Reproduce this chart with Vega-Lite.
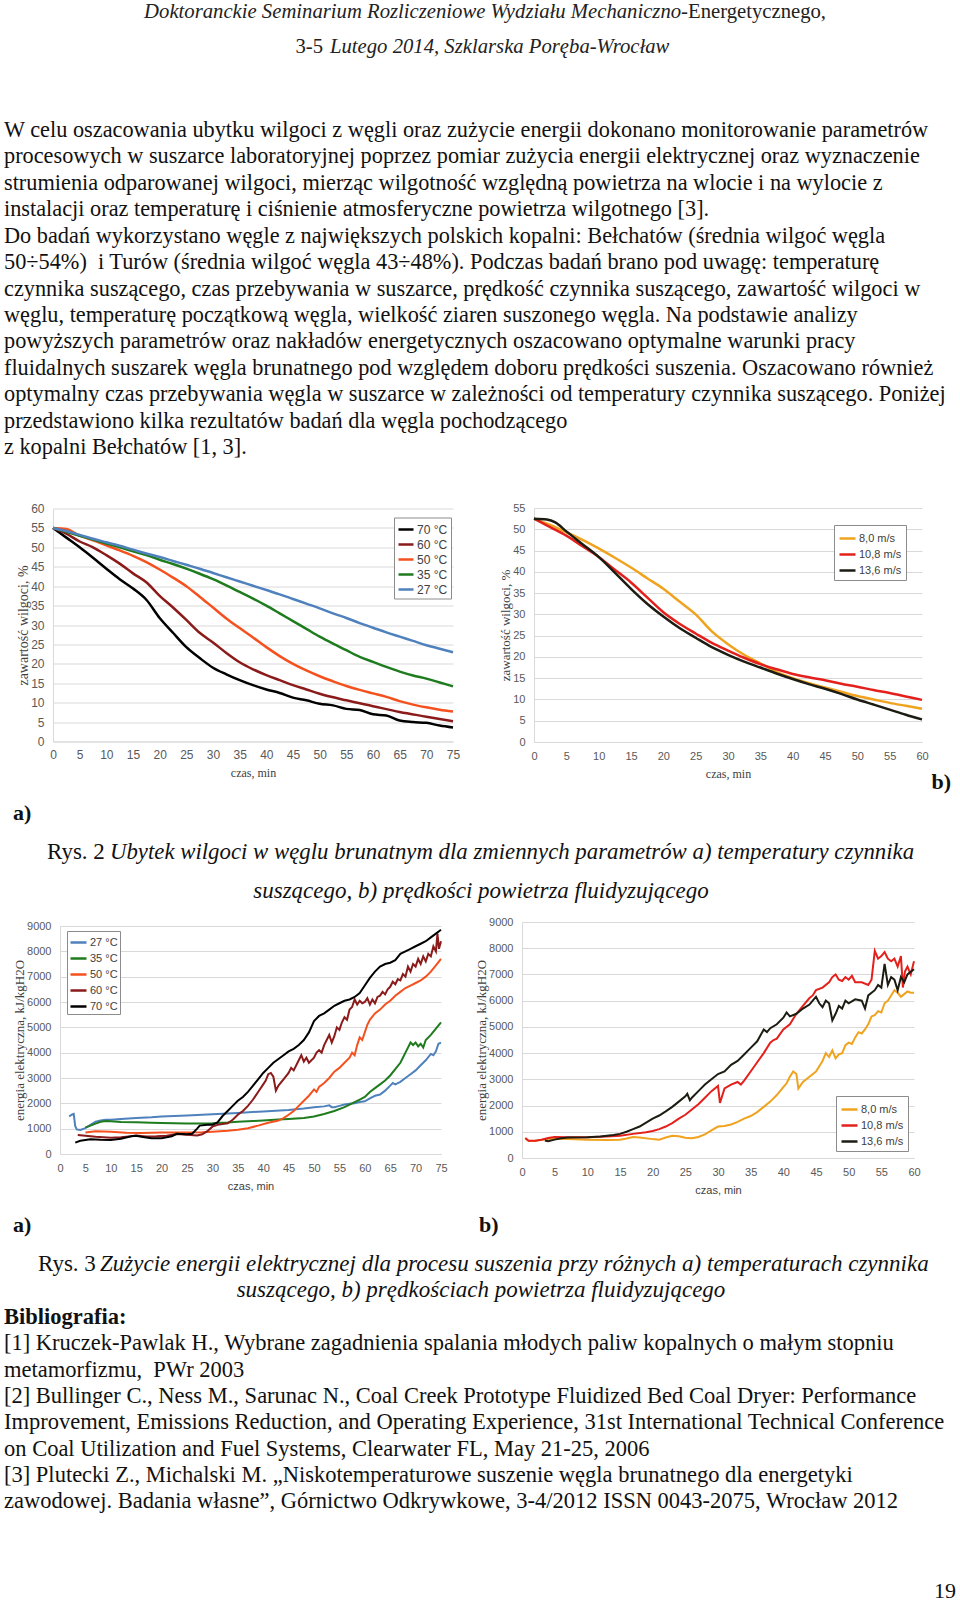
{
"$schema": "https://vega.github.io/schema/vega-lite/v6.json",
"padding": 0,
"background": "white",
"spacing": 0,
"resolve": {"scale": {"color": "independent"}, "legend": {"color": "independent"}},
"config": {
  "view": {"stroke": null},
  "axis": {"labelFont": "Liberation Sans", "labelFontSize": 11, "labelColor": "#595959", "titleFont": "Liberation Serif", "titleFontWeight": "normal", "titleColor": "#404040", "ticks": false, "domainColor": "#d9d9d9", "gridColor": "#d9d9d9", "labelFlush": false, "labelOverlap": false, "labelPadding": 8},
  "axisX": {"grid": false, "titlePadding": 7},
  "axisY": {"grid": true, "titlePadding": 0, "labelPadding": 9},
  "legend": {"orient": "none", "title": null, "symbolType": "stroke", "symbolStrokeWidth": 2.5, "symbolSize": 256, "strokeColor": "#8c8c8c", "fillColor": "white", "padding": 3, "labelFont": "Liberation Sans", "labelFontSize": 11, "labelColor": "#404040", "rowPadding": 1, "labelOffset": 2}
},
"datasets": {
  "c1": [
    {"t":0,"w":55,"s":"70 °C"},{"t":2.5,"w":52.5,"s":"70 °C"},{"t":5,"w":50,"s":"70 °C"},{"t":7.5,"w":47.3,"s":"70 °C"},{"t":10,"w":44.5,"s":"70 °C"},{"t":12.5,"w":41.8,"s":"70 °C"},{"t":15,"w":39.4,"s":"70 °C"},{"t":17.5,"w":36.5,"s":"70 °C"},{"t":20,"w":31.8,"s":"70 °C"},{"t":22.5,"w":28,"s":"70 °C"},{"t":25,"w":24.3,"s":"70 °C"},{"t":27.5,"w":21.5,"s":"70 °C"},{"t":30,"w":19,"s":"70 °C"},{"t":32.5,"w":17.3,"s":"70 °C"},{"t":35,"w":15.8,"s":"70 °C"},{"t":37.5,"w":14.5,"s":"70 °C"},{"t":40,"w":13.4,"s":"70 °C"},{"t":42.5,"w":12.5,"s":"70 °C"},{"t":45,"w":11.3,"s":"70 °C"},{"t":47.5,"w":10.6,"s":"70 °C"},{"t":50,"w":9.7,"s":"70 °C"},{"t":52.5,"w":9.3,"s":"70 °C"},{"t":55,"w":8.4,"s":"70 °C"},{"t":57.5,"w":8.1,"s":"70 °C"},{"t":60,"w":7,"s":"70 °C"},{"t":62.5,"w":6.7,"s":"70 °C"},{"t":65,"w":5.4,"s":"70 °C"},{"t":67.5,"w":5,"s":"70 °C"},{"t":70,"w":4.8,"s":"70 °C"},{"t":72.5,"w":4.1,"s":"70 °C"},{"t":75,"w":3.6,"s":"70 °C"},
    {"t":0,"w":55,"s":"60 °C"},{"t":2.5,"w":53.5,"s":"60 °C"},{"t":5,"w":51.5,"s":"60 °C"},{"t":7.5,"w":50,"s":"60 °C"},{"t":10,"w":48,"s":"60 °C"},{"t":12.5,"w":45.8,"s":"60 °C"},{"t":15,"w":43.3,"s":"60 °C"},{"t":17.5,"w":41,"s":"60 °C"},{"t":20,"w":37.5,"s":"60 °C"},{"t":22.5,"w":34.5,"s":"60 °C"},{"t":25,"w":31.3,"s":"60 °C"},{"t":27.5,"w":28,"s":"60 °C"},{"t":30,"w":25.5,"s":"60 °C"},{"t":32.5,"w":22.8,"s":"60 °C"},{"t":35,"w":20.4,"s":"60 °C"},{"t":37.5,"w":18.6,"s":"60 °C"},{"t":40,"w":17.1,"s":"60 °C"},{"t":42.5,"w":15.8,"s":"60 °C"},{"t":45,"w":14.5,"s":"60 °C"},{"t":47.5,"w":13.4,"s":"60 °C"},{"t":50,"w":12.3,"s":"60 °C"},{"t":55,"w":10.6,"s":"60 °C"},{"t":60,"w":9.1,"s":"60 °C"},{"t":65,"w":7.6,"s":"60 °C"},{"t":70,"w":6.4,"s":"60 °C"},{"t":75,"w":5.2,"s":"60 °C"},
    {"t":0,"w":55,"s":"50 °C"},{"t":2.5,"w":54.7,"s":"50 °C"},{"t":5,"w":53,"s":"50 °C"},{"t":7.5,"w":51.8,"s":"50 °C"},{"t":10,"w":50.5,"s":"50 °C"},{"t":12.5,"w":49.2,"s":"50 °C"},{"t":15,"w":47.8,"s":"50 °C"},{"t":17.5,"w":46.2,"s":"50 °C"},{"t":20,"w":44.3,"s":"50 °C"},{"t":22.5,"w":42.2,"s":"50 °C"},{"t":25,"w":40,"s":"50 °C"},{"t":27.5,"w":37.3,"s":"50 °C"},{"t":30,"w":34.5,"s":"50 °C"},{"t":32.5,"w":31.7,"s":"50 °C"},{"t":35,"w":29.2,"s":"50 °C"},{"t":37.5,"w":26.8,"s":"50 °C"},{"t":40,"w":24.3,"s":"50 °C"},{"t":42.5,"w":22,"s":"50 °C"},{"t":45,"w":20,"s":"50 °C"},{"t":47.5,"w":18.3,"s":"50 °C"},{"t":50,"w":16.8,"s":"50 °C"},{"t":52.5,"w":15.5,"s":"50 °C"},{"t":55,"w":14.3,"s":"50 °C"},{"t":57.5,"w":13.3,"s":"50 °C"},{"t":60,"w":12.4,"s":"50 °C"},{"t":62.5,"w":11.5,"s":"50 °C"},{"t":65,"w":10.4,"s":"50 °C"},{"t":67.5,"w":9.5,"s":"50 °C"},{"t":70,"w":8.8,"s":"50 °C"},{"t":72.5,"w":8.2,"s":"50 °C"},{"t":75,"w":7.7,"s":"50 °C"},
    {"t":0,"w":55,"s":"35 °C"},{"t":2.5,"w":54,"s":"35 °C"},{"t":5,"w":53,"s":"35 °C"},{"t":7.5,"w":52,"s":"35 °C"},{"t":10,"w":51,"s":"35 °C"},{"t":12.5,"w":50,"s":"35 °C"},{"t":15,"w":49,"s":"35 °C"},{"t":17.5,"w":48,"s":"35 °C"},{"t":20,"w":46.8,"s":"35 °C"},{"t":22.5,"w":45.7,"s":"35 °C"},{"t":25,"w":44.5,"s":"35 °C"},{"t":27.5,"w":43.2,"s":"35 °C"},{"t":30,"w":41.8,"s":"35 °C"},{"t":32.5,"w":40.2,"s":"35 °C"},{"t":35,"w":38.5,"s":"35 °C"},{"t":37.5,"w":36.8,"s":"35 °C"},{"t":40,"w":35,"s":"35 °C"},{"t":42.5,"w":33,"s":"35 °C"},{"t":45,"w":31,"s":"35 °C"},{"t":47.5,"w":29,"s":"35 °C"},{"t":50,"w":27,"s":"35 °C"},{"t":52.5,"w":25.2,"s":"35 °C"},{"t":55,"w":23.5,"s":"35 °C"},{"t":57.5,"w":21.8,"s":"35 °C"},{"t":60,"w":20.5,"s":"35 °C"},{"t":62.5,"w":19.2,"s":"35 °C"},{"t":65,"w":18,"s":"35 °C"},{"t":67.5,"w":17,"s":"35 °C"},{"t":70,"w":16.2,"s":"35 °C"},{"t":72.5,"w":15.2,"s":"35 °C"},{"t":75,"w":14.2,"s":"35 °C"},
    {"t":0,"w":55,"s":"27 °C"},{"t":2.5,"w":54.2,"s":"27 °C"},{"t":5,"w":53.2,"s":"27 °C"},{"t":7.5,"w":52.2,"s":"27 °C"},{"t":10,"w":51.3,"s":"27 °C"},{"t":12.5,"w":50.4,"s":"27 °C"},{"t":15,"w":49.4,"s":"27 °C"},{"t":17.5,"w":48.4,"s":"27 °C"},{"t":20,"w":47.5,"s":"27 °C"},{"t":22.5,"w":46.5,"s":"27 °C"},{"t":25,"w":45.5,"s":"27 °C"},{"t":27.5,"w":44.5,"s":"27 °C"},{"t":30,"w":43.4,"s":"27 °C"},{"t":32.5,"w":42.3,"s":"27 °C"},{"t":35,"w":41.2,"s":"27 °C"},{"t":37.5,"w":40.1,"s":"27 °C"},{"t":40,"w":39,"s":"27 °C"},{"t":42.5,"w":37.9,"s":"27 °C"},{"t":45,"w":36.7,"s":"27 °C"},{"t":47.5,"w":35.5,"s":"27 °C"},{"t":50,"w":34.3,"s":"27 °C"},{"t":52.5,"w":33,"s":"27 °C"},{"t":55,"w":31.8,"s":"27 °C"},{"t":57.5,"w":30.5,"s":"27 °C"},{"t":60,"w":29.3,"s":"27 °C"},{"t":62.5,"w":28.1,"s":"27 °C"},{"t":65,"w":27,"s":"27 °C"},{"t":67.5,"w":25.9,"s":"27 °C"},{"t":70,"w":24.8,"s":"27 °C"},{"t":72.5,"w":23.9,"s":"27 °C"},{"t":75,"w":23,"s":"27 °C"}
  ],
  "c2": [
    {"t":0,"w":52.5,"s":"8,0 m/s"},{"t":2.5,"w":51,"s":"8,0 m/s"},{"t":5,"w":49.3,"s":"8,0 m/s"},{"t":7.5,"w":47.5,"s":"8,0 m/s"},{"t":10,"w":45.5,"s":"8,0 m/s"},{"t":12.5,"w":43.3,"s":"8,0 m/s"},{"t":15,"w":41,"s":"8,0 m/s"},{"t":17.5,"w":38.5,"s":"8,0 m/s"},{"t":20,"w":36,"s":"8,0 m/s"},{"t":22.5,"w":33,"s":"8,0 m/s"},{"t":25,"w":30,"s":"8,0 m/s"},{"t":27.5,"w":26,"s":"8,0 m/s"},{"t":30,"w":23,"s":"8,0 m/s"},{"t":32.5,"w":20.5,"s":"8,0 m/s"},{"t":35,"w":18.5,"s":"8,0 m/s"},{"t":37.5,"w":16.5,"s":"8,0 m/s"},{"t":40,"w":15,"s":"8,0 m/s"},{"t":42.5,"w":13.8,"s":"8,0 m/s"},{"t":45,"w":12.8,"s":"8,0 m/s"},{"t":47.5,"w":11.8,"s":"8,0 m/s"},{"t":50,"w":10.8,"s":"8,0 m/s"},{"t":52.5,"w":10,"s":"8,0 m/s"},{"t":55,"w":9.2,"s":"8,0 m/s"},{"t":57.5,"w":8.5,"s":"8,0 m/s"},{"t":60,"w":7.8,"s":"8,0 m/s"},
    {"t":0,"w":52.5,"s":"10,8 m/s"},{"t":2.5,"w":50.5,"s":"10,8 m/s"},{"t":5,"w":48.5,"s":"10,8 m/s"},{"t":7.5,"w":46,"s":"10,8 m/s"},{"t":10,"w":43.5,"s":"10,8 m/s"},{"t":12.5,"w":40.5,"s":"10,8 m/s"},{"t":15,"w":37.5,"s":"10,8 m/s"},{"t":17.5,"w":34,"s":"10,8 m/s"},{"t":20,"w":30.5,"s":"10,8 m/s"},{"t":22.5,"w":27.8,"s":"10,8 m/s"},{"t":25,"w":25.5,"s":"10,8 m/s"},{"t":27.5,"w":23.3,"s":"10,8 m/s"},{"t":30,"w":21.5,"s":"10,8 m/s"},{"t":32.5,"w":19.8,"s":"10,8 m/s"},{"t":35,"w":18.3,"s":"10,8 m/s"},{"t":37.5,"w":17.1,"s":"10,8 m/s"},{"t":40,"w":16,"s":"10,8 m/s"},{"t":42.5,"w":15.2,"s":"10,8 m/s"},{"t":45,"w":14.5,"s":"10,8 m/s"},{"t":47.5,"w":13.7,"s":"10,8 m/s"},{"t":50,"w":13,"s":"10,8 m/s"},{"t":52.5,"w":12.2,"s":"10,8 m/s"},{"t":55,"w":11.5,"s":"10,8 m/s"},{"t":57.5,"w":10.7,"s":"10,8 m/s"},{"t":60,"w":9.9,"s":"10,8 m/s"},
    {"t":0,"w":52.5,"s":"13,6 m/s"},{"t":2,"w":52.3,"s":"13,6 m/s"},{"t":3.3,"w":51.6,"s":"13,6 m/s"},{"t":5,"w":49.5,"s":"13,6 m/s"},{"t":7.5,"w":46.5,"s":"13,6 m/s"},{"t":10,"w":43.5,"s":"13,6 m/s"},{"t":12.5,"w":39.8,"s":"13,6 m/s"},{"t":15,"w":36,"s":"13,6 m/s"},{"t":17.5,"w":32.5,"s":"13,6 m/s"},{"t":20,"w":29.5,"s":"13,6 m/s"},{"t":22.5,"w":26.8,"s":"13,6 m/s"},{"t":25,"w":24.5,"s":"13,6 m/s"},{"t":27.5,"w":22.3,"s":"13,6 m/s"},{"t":30,"w":20.5,"s":"13,6 m/s"},{"t":32.5,"w":18.9,"s":"13,6 m/s"},{"t":35,"w":17.5,"s":"13,6 m/s"},{"t":37.5,"w":16.1,"s":"13,6 m/s"},{"t":40,"w":14.8,"s":"13,6 m/s"},{"t":42.5,"w":13.6,"s":"13,6 m/s"},{"t":45,"w":12.5,"s":"13,6 m/s"},{"t":47.5,"w":11.3,"s":"13,6 m/s"},{"t":50,"w":10,"s":"13,6 m/s"},{"t":52.5,"w":8.8,"s":"13,6 m/s"},{"t":55,"w":7.6,"s":"13,6 m/s"},{"t":57.5,"w":6.4,"s":"13,6 m/s"},{"t":60,"w":5.3,"s":"13,6 m/s"}
  ],
  "c3": [
    {"t":1.8,"e":1480,"s":"27 °C"},{"t":2.3,"e":1550,"s":"27 °C"},{"t":2.7,"e":1580,"s":"27 °C"},{"t":3,"e":1100,"s":"27 °C"},{"t":3.3,"e":970,"s":"27 °C"},{"t":4,"e":950,"s":"27 °C"},{"t":5,"e":1020,"s":"27 °C"},{"t":6,"e":1150,"s":"27 °C"},{"t":7,"e":1280,"s":"27 °C"},{"t":8,"e":1320,"s":"27 °C"},{"t":9,"e":1350,"s":"27 °C"},{"t":10,"e":1350,"s":"27 °C"},{"t":12,"e":1380,"s":"27 °C"},{"t":15,"e":1420,"s":"27 °C"},{"t":18,"e":1450,"s":"27 °C"},{"t":20,"e":1480,"s":"27 °C"},{"t":25,"e":1520,"s":"27 °C"},{"t":30,"e":1570,"s":"27 °C"},{"t":35,"e":1620,"s":"27 °C"},{"t":40,"e":1680,"s":"27 °C"},{"t":45,"e":1740,"s":"27 °C"},{"t":48,"e":1800,"s":"27 °C"},{"t":50,"e":1850,"s":"27 °C"},{"t":52,"e":1880,"s":"27 °C"},{"t":53,"e":1920,"s":"27 °C"},{"t":53.5,"e":1850,"s":"27 °C"},{"t":54,"e":1850,"s":"27 °C"},{"t":55,"e":1900,"s":"27 °C"},{"t":56,"e":1950,"s":"27 °C"},{"t":57,"e":1980,"s":"27 °C"},{"t":58,"e":2000,"s":"27 °C"},{"t":59,"e":2050,"s":"27 °C"},{"t":60,"e":2080,"s":"27 °C"},{"t":61,"e":2200,"s":"27 °C"},{"t":62,"e":2300,"s":"27 °C"},{"t":63,"e":2350,"s":"27 °C"},{"t":64,"e":2500,"s":"27 °C"},{"t":65,"e":2700,"s":"27 °C"},{"t":65.5,"e":2800,"s":"27 °C"},{"t":66,"e":2750,"s":"27 °C"},{"t":67,"e":2850,"s":"27 °C"},{"t":68,"e":3000,"s":"27 °C"},{"t":69,"e":3150,"s":"27 °C"},{"t":70,"e":3300,"s":"27 °C"},{"t":71,"e":3500,"s":"27 °C"},{"t":72,"e":3700,"s":"27 °C"},{"t":73,"e":3950,"s":"27 °C"},{"t":73.5,"e":3900,"s":"27 °C"},{"t":74,"e":4050,"s":"27 °C"},{"t":74.5,"e":4350,"s":"27 °C"},{"t":75,"e":4400,"s":"27 °C"},
    {"t":5,"e":1050,"s":"35 °C"},{"t":6,"e":1120,"s":"35 °C"},{"t":7,"e":1200,"s":"35 °C"},{"t":8,"e":1270,"s":"35 °C"},{"t":9,"e":1300,"s":"35 °C"},{"t":10,"e":1290,"s":"35 °C"},{"t":12,"e":1260,"s":"35 °C"},{"t":15,"e":1250,"s":"35 °C"},{"t":18,"e":1230,"s":"35 °C"},{"t":20,"e":1220,"s":"35 °C"},{"t":25,"e":1200,"s":"35 °C"},{"t":28,"e":1200,"s":"35 °C"},{"t":30,"e":1210,"s":"35 °C"},{"t":33,"e":1240,"s":"35 °C"},{"t":35,"e":1270,"s":"35 °C"},{"t":38,"e":1300,"s":"35 °C"},{"t":40,"e":1320,"s":"35 °C"},{"t":43,"e":1360,"s":"35 °C"},{"t":45,"e":1380,"s":"35 °C"},{"t":48,"e":1420,"s":"35 °C"},{"t":50,"e":1480,"s":"35 °C"},{"t":52,"e":1580,"s":"35 °C"},{"t":54,"e":1700,"s":"35 °C"},{"t":56,"e":1850,"s":"35 °C"},{"t":57,"e":1950,"s":"35 °C"},{"t":58,"e":2050,"s":"35 °C"},{"t":59,"e":2150,"s":"35 °C"},{"t":60,"e":2250,"s":"35 °C"},{"t":61,"e":2450,"s":"35 °C"},{"t":62,"e":2600,"s":"35 °C"},{"t":63,"e":2750,"s":"35 °C"},{"t":64,"e":2900,"s":"35 °C"},{"t":65,"e":3100,"s":"35 °C"},{"t":66,"e":3350,"s":"35 °C"},{"t":67,"e":3600,"s":"35 °C"},{"t":67.5,"e":3800,"s":"35 °C"},{"t":68,"e":4000,"s":"35 °C"},{"t":68.5,"e":4200,"s":"35 °C"},{"t":69,"e":4400,"s":"35 °C"},{"t":69.5,"e":4300,"s":"35 °C"},{"t":70,"e":4400,"s":"35 °C"},{"t":70.5,"e":4250,"s":"35 °C"},{"t":71,"e":4350,"s":"35 °C"},{"t":71.5,"e":4200,"s":"35 °C"},{"t":72,"e":4500,"s":"35 °C"},{"t":73,"e":4700,"s":"35 °C"},{"t":74,"e":4950,"s":"35 °C"},{"t":75,"e":5200,"s":"35 °C"},
    {"t":5,"e":850,"s":"50 °C"},{"t":7,"e":900,"s":"50 °C"},{"t":10,"e":880,"s":"50 °C"},{"t":13,"e":840,"s":"50 °C"},{"t":16,"e":830,"s":"50 °C"},{"t":20,"e":850,"s":"50 °C"},{"t":25,"e":850,"s":"50 °C"},{"t":28,"e":860,"s":"50 °C"},{"t":30,"e":880,"s":"50 °C"},{"t":33,"e":920,"s":"50 °C"},{"t":35,"e":960,"s":"50 °C"},{"t":37,"e":1020,"s":"50 °C"},{"t":39,"e":1120,"s":"50 °C"},{"t":41,"e":1230,"s":"50 °C"},{"t":43,"e":1320,"s":"50 °C"},{"t":44,"e":1420,"s":"50 °C"},{"t":45,"e":1550,"s":"50 °C"},{"t":46,"e":1700,"s":"50 °C"},{"t":47,"e":1900,"s":"50 °C"},{"t":48,"e":2100,"s":"50 °C"},{"t":49,"e":2300,"s":"50 °C"},{"t":50,"e":2550,"s":"50 °C"},{"t":50.5,"e":2450,"s":"50 °C"},{"t":51,"e":2650,"s":"50 °C"},{"t":52,"e":2800,"s":"50 °C"},{"t":53,"e":3000,"s":"50 °C"},{"t":54,"e":3250,"s":"50 °C"},{"t":55,"e":3400,"s":"50 °C"},{"t":56,"e":3600,"s":"50 °C"},{"t":57,"e":3800,"s":"50 °C"},{"t":57.5,"e":4000,"s":"50 °C"},{"t":58,"e":3900,"s":"50 °C"},{"t":58.5,"e":4300,"s":"50 °C"},{"t":59,"e":4600,"s":"50 °C"},{"t":59.5,"e":4500,"s":"50 °C"},{"t":60,"e":4800,"s":"50 °C"},{"t":60.5,"e":5100,"s":"50 °C"},{"t":61,"e":5300,"s":"50 °C"},{"t":62,"e":5550,"s":"50 °C"},{"t":63,"e":5700,"s":"50 °C"},{"t":64,"e":5900,"s":"50 °C"},{"t":65,"e":6050,"s":"50 °C"},{"t":66,"e":6250,"s":"50 °C"},{"t":67,"e":6400,"s":"50 °C"},{"t":68,"e":6550,"s":"50 °C"},{"t":69,"e":6650,"s":"50 °C"},{"t":70,"e":6750,"s":"50 °C"},{"t":71,"e":6850,"s":"50 °C"},{"t":72,"e":7000,"s":"50 °C"},{"t":73,"e":7200,"s":"50 °C"},{"t":74,"e":7450,"s":"50 °C"},{"t":75,"e":7700,"s":"50 °C"},
    {"t":3.5,"e":750,"s":"60 °C"},{"t":5,"e":720,"s":"60 °C"},{"t":7,"e":680,"s":"60 °C"},{"t":10,"e":640,"s":"60 °C"},{"t":12,"e":660,"s":"60 °C"},{"t":14,"e":700,"s":"60 °C"},{"t":15,"e":730,"s":"60 °C"},{"t":17,"e":690,"s":"60 °C"},{"t":19,"e":700,"s":"60 °C"},{"t":21,"e":720,"s":"60 °C"},{"t":23,"e":790,"s":"60 °C"},{"t":25,"e":760,"s":"60 °C"},{"t":27,"e":730,"s":"60 °C"},{"t":28,"e":780,"s":"60 °C"},{"t":29,"e":900,"s":"60 °C"},{"t":30,"e":1080,"s":"60 °C"},{"t":31,"e":1150,"s":"60 °C"},{"t":32,"e":1180,"s":"60 °C"},{"t":33,"e":1210,"s":"60 °C"},{"t":34,"e":1350,"s":"60 °C"},{"t":35,"e":1550,"s":"60 °C"},{"t":36,"e":1700,"s":"60 °C"},{"t":37,"e":1900,"s":"60 °C"},{"t":38,"e":2150,"s":"60 °C"},{"t":39,"e":2450,"s":"60 °C"},{"t":40,"e":2750,"s":"60 °C"},{"t":40.5,"e":2900,"s":"60 °C"},{"t":41,"e":3150,"s":"60 °C"},{"t":41.5,"e":3200,"s":"60 °C"},{"t":42,"e":3050,"s":"60 °C"},{"t":42.5,"e":2500,"s":"60 °C"},{"t":43,"e":2700,"s":"60 °C"},{"t":44,"e":2950,"s":"60 °C"},{"t":45,"e":3200,"s":"60 °C"},{"t":45.5,"e":3400,"s":"60 °C"},{"t":46,"e":3300,"s":"60 °C"},{"t":47,"e":3700,"s":"60 °C"},{"t":47.5,"e":3900,"s":"60 °C"},{"t":48,"e":3650,"s":"60 °C"},{"t":48.5,"e":3800,"s":"60 °C"},{"t":49,"e":3600,"s":"60 °C"},{"t":50,"e":3800,"s":"60 °C"},{"t":50.5,"e":4000,"s":"60 °C"},{"t":51,"e":4100,"s":"60 °C"},{"t":51.5,"e":4000,"s":"60 °C"},{"t":52,"e":4300,"s":"60 °C"},{"t":52.5,"e":4500,"s":"60 °C"},{"t":53,"e":4700,"s":"60 °C"},{"t":53.5,"e":4400,"s":"60 °C"},{"t":54,"e":4650,"s":"60 °C"},{"t":54.5,"e":5000,"s":"60 °C"},{"t":55,"e":4900,"s":"60 °C"},{"t":55.5,"e":5200,"s":"60 °C"},{"t":56,"e":5400,"s":"60 °C"},{"t":56.5,"e":5300,"s":"60 °C"},{"t":57,"e":5700,"s":"60 °C"},{"t":57.5,"e":5800,"s":"60 °C"},{"t":58,"e":6100,"s":"60 °C"},{"t":58.5,"e":5900,"s":"60 °C"},{"t":59,"e":6050,"s":"60 °C"},{"t":59.5,"e":5950,"s":"60 °C"},{"t":60,"e":6000,"s":"60 °C"},{"t":60.5,"e":6150,"s":"60 °C"},{"t":61,"e":5900,"s":"60 °C"},{"t":61.5,"e":6100,"s":"60 °C"},{"t":62,"e":5950,"s":"60 °C"},{"t":62.5,"e":6200,"s":"60 °C"},{"t":63,"e":6250,"s":"60 °C"},{"t":63.5,"e":6400,"s":"60 °C"},{"t":64,"e":6300,"s":"60 °C"},{"t":64.5,"e":6500,"s":"60 °C"},{"t":65,"e":6600,"s":"60 °C"},{"t":65.5,"e":6800,"s":"60 °C"},{"t":66,"e":6700,"s":"60 °C"},{"t":66.5,"e":6900,"s":"60 °C"},{"t":67,"e":6850,"s":"60 °C"},{"t":67.5,"e":7100,"s":"60 °C"},{"t":68,"e":7000,"s":"60 °C"},{"t":68.5,"e":7400,"s":"60 °C"},{"t":69,"e":7200,"s":"60 °C"},{"t":69.5,"e":7500,"s":"60 °C"},{"t":70,"e":7400,"s":"60 °C"},{"t":70.5,"e":7700,"s":"60 °C"},{"t":71,"e":7500,"s":"60 °C"},{"t":71.5,"e":7800,"s":"60 °C"},{"t":72,"e":7600,"s":"60 °C"},{"t":72.5,"e":7900,"s":"60 °C"},{"t":73,"e":7800,"s":"60 °C"},{"t":73.5,"e":8200,"s":"60 °C"},{"t":74,"e":8000,"s":"60 °C"},{"t":74.3,"e":8700,"s":"60 °C"},{"t":74.6,"e":8100,"s":"60 °C"},{"t":75,"e":8400,"s":"60 °C"},
    {"t":3,"e":450,"s":"70 °C"},{"t":4,"e":520,"s":"70 °C"},{"t":5,"e":550,"s":"70 °C"},{"t":6,"e":580,"s":"70 °C"},{"t":8,"e":560,"s":"70 °C"},{"t":10,"e":550,"s":"70 °C"},{"t":12,"e":600,"s":"70 °C"},{"t":14,"e":700,"s":"70 °C"},{"t":15,"e":720,"s":"70 °C"},{"t":16,"e":680,"s":"70 °C"},{"t":18,"e":620,"s":"70 °C"},{"t":20,"e":620,"s":"70 °C"},{"t":22,"e":700,"s":"70 °C"},{"t":23,"e":800,"s":"70 °C"},{"t":25,"e":780,"s":"70 °C"},{"t":26,"e":800,"s":"70 °C"},{"t":27,"e":1000,"s":"70 °C"},{"t":27.5,"e":1120,"s":"70 °C"},{"t":29,"e":1150,"s":"70 °C"},{"t":30,"e":1150,"s":"70 °C"},{"t":31,"e":1250,"s":"70 °C"},{"t":32,"e":1500,"s":"70 °C"},{"t":33,"e":1700,"s":"70 °C"},{"t":34,"e":1900,"s":"70 °C"},{"t":35,"e":2100,"s":"70 °C"},{"t":36,"e":2250,"s":"70 °C"},{"t":37,"e":2450,"s":"70 °C"},{"t":38,"e":2700,"s":"70 °C"},{"t":39,"e":2950,"s":"70 °C"},{"t":40,"e":3200,"s":"70 °C"},{"t":41,"e":3400,"s":"70 °C"},{"t":42,"e":3600,"s":"70 °C"},{"t":43,"e":3750,"s":"70 °C"},{"t":44,"e":3900,"s":"70 °C"},{"t":45,"e":4050,"s":"70 °C"},{"t":46,"e":4150,"s":"70 °C"},{"t":47,"e":4300,"s":"70 °C"},{"t":48,"e":4500,"s":"70 °C"},{"t":49,"e":4800,"s":"70 °C"},{"t":50,"e":5250,"s":"70 °C"},{"t":51,"e":5450,"s":"70 °C"},{"t":52,"e":5550,"s":"70 °C"},{"t":53,"e":5700,"s":"70 °C"},{"t":54,"e":5850,"s":"70 °C"},{"t":55,"e":5950,"s":"70 °C"},{"t":56,"e":6050,"s":"70 °C"},{"t":57,"e":6100,"s":"70 °C"},{"t":58,"e":6200,"s":"70 °C"},{"t":59,"e":6350,"s":"70 °C"},{"t":60,"e":6650,"s":"70 °C"},{"t":61,"e":6950,"s":"70 °C"},{"t":62,"e":7200,"s":"70 °C"},{"t":63,"e":7400,"s":"70 °C"},{"t":64,"e":7500,"s":"70 °C"},{"t":65,"e":7550,"s":"70 °C"},{"t":66,"e":7650,"s":"70 °C"},{"t":67,"e":7900,"s":"70 °C"},{"t":68,"e":8000,"s":"70 °C"},{"t":69,"e":8100,"s":"70 °C"},{"t":70,"e":8200,"s":"70 °C"},{"t":71,"e":8300,"s":"70 °C"},{"t":72,"e":8400,"s":"70 °C"},{"t":73,"e":8550,"s":"70 °C"},{"t":74,"e":8700,"s":"70 °C"},{"t":75,"e":8850,"s":"70 °C"}
  ],
  "c4": [
    {"t":0.5,"e":750,"s":"8,0 m/s"},{"t":1,"e":660,"s":"8,0 m/s"},{"t":2,"e":650,"s":"8,0 m/s"},{"t":3,"e":700,"s":"8,0 m/s"},{"t":4,"e":720,"s":"8,0 m/s"},{"t":5,"e":730,"s":"8,0 m/s"},{"t":7,"e":720,"s":"8,0 m/s"},{"t":10,"e":700,"s":"8,0 m/s"},{"t":13,"e":690,"s":"8,0 m/s"},{"t":15,"e":700,"s":"8,0 m/s"},{"t":16,"e":740,"s":"8,0 m/s"},{"t":17,"e":800,"s":"8,0 m/s"},{"t":18,"e":780,"s":"8,0 m/s"},{"t":20,"e":720,"s":"8,0 m/s"},{"t":21,"e":700,"s":"8,0 m/s"},{"t":22,"e":780,"s":"8,0 m/s"},{"t":23,"e":850,"s":"8,0 m/s"},{"t":24,"e":830,"s":"8,0 m/s"},{"t":25,"e":770,"s":"8,0 m/s"},{"t":26,"e":750,"s":"8,0 m/s"},{"t":27,"e":800,"s":"8,0 m/s"},{"t":28,"e":900,"s":"8,0 m/s"},{"t":29,"e":1050,"s":"8,0 m/s"},{"t":30,"e":1200,"s":"8,0 m/s"},{"t":31,"e":1220,"s":"8,0 m/s"},{"t":32,"e":1280,"s":"8,0 m/s"},{"t":33,"e":1380,"s":"8,0 m/s"},{"t":34,"e":1500,"s":"8,0 m/s"},{"t":35,"e":1600,"s":"8,0 m/s"},{"t":36,"e":1750,"s":"8,0 m/s"},{"t":37,"e":1950,"s":"8,0 m/s"},{"t":38,"e":2150,"s":"8,0 m/s"},{"t":39,"e":2400,"s":"8,0 m/s"},{"t":40,"e":2700,"s":"8,0 m/s"},{"t":40.5,"e":2850,"s":"8,0 m/s"},{"t":41,"e":3100,"s":"8,0 m/s"},{"t":41.5,"e":3300,"s":"8,0 m/s"},{"t":42,"e":3200,"s":"8,0 m/s"},{"t":42.3,"e":2650,"s":"8,0 m/s"},{"t":43,"e":2900,"s":"8,0 m/s"},{"t":44,"e":3100,"s":"8,0 m/s"},{"t":45,"e":3300,"s":"8,0 m/s"},{"t":45.5,"e":3500,"s":"8,0 m/s"},{"t":46,"e":3700,"s":"8,0 m/s"},{"t":46.5,"e":4000,"s":"8,0 m/s"},{"t":47,"e":3850,"s":"8,0 m/s"},{"t":47.5,"e":4100,"s":"8,0 m/s"},{"t":48,"e":3800,"s":"8,0 m/s"},{"t":48.5,"e":3950,"s":"8,0 m/s"},{"t":49,"e":4000,"s":"8,0 m/s"},{"t":49.5,"e":4300,"s":"8,0 m/s"},{"t":50,"e":4400,"s":"8,0 m/s"},{"t":50.5,"e":4350,"s":"8,0 m/s"},{"t":51,"e":4600,"s":"8,0 m/s"},{"t":51.5,"e":4800,"s":"8,0 m/s"},{"t":52,"e":4750,"s":"8,0 m/s"},{"t":52.5,"e":4900,"s":"8,0 m/s"},{"t":53,"e":5100,"s":"8,0 m/s"},{"t":53.5,"e":5400,"s":"8,0 m/s"},{"t":54,"e":5450,"s":"8,0 m/s"},{"t":54.5,"e":5600,"s":"8,0 m/s"},{"t":55,"e":5550,"s":"8,0 m/s"},{"t":55.5,"e":5900,"s":"8,0 m/s"},{"t":56,"e":6000,"s":"8,0 m/s"},{"t":56.5,"e":6200,"s":"8,0 m/s"},{"t":57,"e":6400,"s":"8,0 m/s"},{"t":57.5,"e":6300,"s":"8,0 m/s"},{"t":58,"e":6150,"s":"8,0 m/s"},{"t":58.5,"e":6250,"s":"8,0 m/s"},{"t":59,"e":6350,"s":"8,0 m/s"},{"t":59.5,"e":6300,"s":"8,0 m/s"},{"t":60,"e":6300,"s":"8,0 m/s"},
    {"t":0.5,"e":760,"s":"10,8 m/s"},{"t":1,"e":660,"s":"10,8 m/s"},{"t":2,"e":660,"s":"10,8 m/s"},{"t":3,"e":700,"s":"10,8 m/s"},{"t":4,"e":760,"s":"10,8 m/s"},{"t":5,"e":800,"s":"10,8 m/s"},{"t":7,"e":790,"s":"10,8 m/s"},{"t":10,"e":790,"s":"10,8 m/s"},{"t":13,"e":820,"s":"10,8 m/s"},{"t":15,"e":850,"s":"10,8 m/s"},{"t":17,"e":920,"s":"10,8 m/s"},{"t":19,"e":980,"s":"10,8 m/s"},{"t":20,"e":1030,"s":"10,8 m/s"},{"t":21,"e":1100,"s":"10,8 m/s"},{"t":22,"e":1200,"s":"10,8 m/s"},{"t":23,"e":1330,"s":"10,8 m/s"},{"t":24,"e":1500,"s":"10,8 m/s"},{"t":25,"e":1650,"s":"10,8 m/s"},{"t":26,"e":1850,"s":"10,8 m/s"},{"t":27,"e":2050,"s":"10,8 m/s"},{"t":28,"e":2300,"s":"10,8 m/s"},{"t":29,"e":2550,"s":"10,8 m/s"},{"t":30,"e":2750,"s":"10,8 m/s"},{"t":30.3,"e":2100,"s":"10,8 m/s"},{"t":31,"e":2650,"s":"10,8 m/s"},{"t":32,"e":2800,"s":"10,8 m/s"},{"t":33,"e":2900,"s":"10,8 m/s"},{"t":33.5,"e":2800,"s":"10,8 m/s"},{"t":34,"e":2950,"s":"10,8 m/s"},{"t":35,"e":3300,"s":"10,8 m/s"},{"t":36,"e":3650,"s":"10,8 m/s"},{"t":37,"e":4000,"s":"10,8 m/s"},{"t":38,"e":4400,"s":"10,8 m/s"},{"t":38.5,"e":4500,"s":"10,8 m/s"},{"t":39,"e":4550,"s":"10,8 m/s"},{"t":40,"e":4900,"s":"10,8 m/s"},{"t":41,"e":5100,"s":"10,8 m/s"},{"t":41.5,"e":5300,"s":"10,8 m/s"},{"t":42,"e":5500,"s":"10,8 m/s"},{"t":43,"e":5800,"s":"10,8 m/s"},{"t":44,"e":6100,"s":"10,8 m/s"},{"t":44.5,"e":6200,"s":"10,8 m/s"},{"t":45,"e":6400,"s":"10,8 m/s"},{"t":46,"e":6500,"s":"10,8 m/s"},{"t":47,"e":6700,"s":"10,8 m/s"},{"t":47.5,"e":6900,"s":"10,8 m/s"},{"t":48,"e":7000,"s":"10,8 m/s"},{"t":48.5,"e":6800,"s":"10,8 m/s"},{"t":49,"e":6750,"s":"10,8 m/s"},{"t":49.5,"e":6900,"s":"10,8 m/s"},{"t":50,"e":6800,"s":"10,8 m/s"},{"t":50.5,"e":6950,"s":"10,8 m/s"},{"t":51,"e":6700,"s":"10,8 m/s"},{"t":52,"e":6700,"s":"10,8 m/s"},{"t":53,"e":6600,"s":"10,8 m/s"},{"t":53.5,"e":6800,"s":"10,8 m/s"},{"t":54,"e":7900,"s":"10,8 m/s"},{"t":54.5,"e":7600,"s":"10,8 m/s"},{"t":55,"e":7700,"s":"10,8 m/s"},{"t":55.5,"e":7850,"s":"10,8 m/s"},{"t":56,"e":7600,"s":"10,8 m/s"},{"t":56.5,"e":7500,"s":"10,8 m/s"},{"t":57,"e":7600,"s":"10,8 m/s"},{"t":57.5,"e":7300,"s":"10,8 m/s"},{"t":58,"e":7700,"s":"10,8 m/s"},{"t":58.3,"e":6500,"s":"10,8 m/s"},{"t":58.6,"e":7100,"s":"10,8 m/s"},{"t":59,"e":7300,"s":"10,8 m/s"},{"t":59.5,"e":7000,"s":"10,8 m/s"},{"t":60,"e":7500,"s":"10,8 m/s"},
    {"t":3.5,"e":670,"s":"13,6 m/s"},{"t":4,"e":640,"s":"13,6 m/s"},{"t":5,"e":700,"s":"13,6 m/s"},{"t":6,"e":750,"s":"13,6 m/s"},{"t":7,"e":780,"s":"13,6 m/s"},{"t":10,"e":790,"s":"13,6 m/s"},{"t":12,"e":820,"s":"13,6 m/s"},{"t":14,"e":880,"s":"13,6 m/s"},{"t":15,"e":920,"s":"13,6 m/s"},{"t":16,"e":1000,"s":"13,6 m/s"},{"t":17,"e":1100,"s":"13,6 m/s"},{"t":18,"e":1200,"s":"13,6 m/s"},{"t":19,"e":1350,"s":"13,6 m/s"},{"t":20,"e":1500,"s":"13,6 m/s"},{"t":21,"e":1620,"s":"13,6 m/s"},{"t":22,"e":1780,"s":"13,6 m/s"},{"t":23,"e":1950,"s":"13,6 m/s"},{"t":24,"e":2150,"s":"13,6 m/s"},{"t":25,"e":2350,"s":"13,6 m/s"},{"t":25.3,"e":2450,"s":"13,6 m/s"},{"t":25.7,"e":2200,"s":"13,6 m/s"},{"t":26,"e":2300,"s":"13,6 m/s"},{"t":27,"e":2550,"s":"13,6 m/s"},{"t":28,"e":2800,"s":"13,6 m/s"},{"t":29,"e":3000,"s":"13,6 m/s"},{"t":30,"e":3200,"s":"13,6 m/s"},{"t":31,"e":3300,"s":"13,6 m/s"},{"t":32,"e":3550,"s":"13,6 m/s"},{"t":33,"e":3700,"s":"13,6 m/s"},{"t":34,"e":3950,"s":"13,6 m/s"},{"t":35,"e":4200,"s":"13,6 m/s"},{"t":36,"e":4450,"s":"13,6 m/s"},{"t":37,"e":4900,"s":"13,6 m/s"},{"t":37.5,"e":4800,"s":"13,6 m/s"},{"t":38,"e":4950,"s":"13,6 m/s"},{"t":39,"e":5100,"s":"13,6 m/s"},{"t":40,"e":5350,"s":"13,6 m/s"},{"t":40.5,"e":5550,"s":"13,6 m/s"},{"t":41,"e":5400,"s":"13,6 m/s"},{"t":42,"e":5500,"s":"13,6 m/s"},{"t":43,"e":5700,"s":"13,6 m/s"},{"t":44,"e":5850,"s":"13,6 m/s"},{"t":44.5,"e":6000,"s":"13,6 m/s"},{"t":45,"e":6150,"s":"13,6 m/s"},{"t":45.5,"e":5900,"s":"13,6 m/s"},{"t":46,"e":5750,"s":"13,6 m/s"},{"t":46.5,"e":6000,"s":"13,6 m/s"},{"t":47,"e":5900,"s":"13,6 m/s"},{"t":47.5,"e":5250,"s":"13,6 m/s"},{"t":48,"e":5500,"s":"13,6 m/s"},{"t":48.5,"e":5800,"s":"13,6 m/s"},{"t":49,"e":5700,"s":"13,6 m/s"},{"t":49.5,"e":6000,"s":"13,6 m/s"},{"t":50,"e":5900,"s":"13,6 m/s"},{"t":51,"e":6050,"s":"13,6 m/s"},{"t":52,"e":6000,"s":"13,6 m/s"},{"t":52.5,"e":5700,"s":"13,6 m/s"},{"t":53,"e":6200,"s":"13,6 m/s"},{"t":54,"e":6400,"s":"13,6 m/s"},{"t":54.5,"e":6600,"s":"13,6 m/s"},{"t":55,"e":6500,"s":"13,6 m/s"},{"t":55.5,"e":7400,"s":"13,6 m/s"},{"t":56,"e":6600,"s":"13,6 m/s"},{"t":56.5,"e":6900,"s":"13,6 m/s"},{"t":57,"e":6800,"s":"13,6 m/s"},{"t":57.5,"e":6400,"s":"13,6 m/s"},{"t":58,"e":6900,"s":"13,6 m/s"},{"t":58.5,"e":6700,"s":"13,6 m/s"},{"t":59,"e":7000,"s":"13,6 m/s"},{"t":59.5,"e":7100,"s":"13,6 m/s"},{"t":60,"e":7200,"s":"13,6 m/s"}
  ]
},
"vconcat": [
  {
    "width": 960, "height": 502,
    "resolve": {"scale": {"y": "independent"}},
    "layer": [
      {"data": {"values": [{"line": 1, "text": "Doktoranckie Seminarium Rozliczeniowe Wydziału Mechaniczno-"}]},
       "mark": {"type": "text", "align": "right", "baseline": "middle", "font": "Liberation Serif", "fontSize": 20.7, "fontStyle": "italic", "color": "#222"},
       "encoding": {"x": {"value": 688}, "y": {"field": "line", "type": "quantitative", "scale": {"domain": [1, 2], "range": [12, 47], "nice": false, "zero": false}, "axis": null}, "text": {"field": "text"}}},
      {"data": {"values": [{"line": 1, "text": "Energetycznego,"}]},
       "mark": {"type": "text", "align": "left", "baseline": "middle", "font": "Liberation Serif", "fontSize": 20.7, "color": "#222"},
       "encoding": {"x": {"value": 688}, "y": {"field": "line", "type": "quantitative", "scale": {"domain": [1, 2], "range": [12, 47], "nice": false, "zero": false}, "axis": null}, "text": {"field": "text"}}},
      {"data": {"values": [{"line": 2, "text": "3-5"}]},
       "mark": {"type": "text", "align": "right", "baseline": "middle", "font": "Liberation Serif", "fontSize": 20.7, "color": "#222"},
       "encoding": {"x": {"value": 323}, "y": {"field": "line", "type": "quantitative", "scale": {"domain": [1, 2], "range": [12, 47], "nice": false, "zero": false}, "axis": null}, "text": {"field": "text"}}},
      {"data": {"values": [{"line": 2, "text": "Lutego 2014, Szklarska Poręba-Wrocław"}]},
       "mark": {"type": "text", "align": "left", "baseline": "middle", "font": "Liberation Serif", "fontSize": 20.7, "fontStyle": "italic", "color": "#222"},
       "encoding": {"x": {"value": 330}, "y": {"field": "line", "type": "quantitative", "scale": {"domain": [1, 2], "range": [12, 47], "nice": false, "zero": false}, "axis": null}, "text": {"field": "text"}}},
      {"data": {"values": [
        {"line": 1, "text": "W celu oszacowania ubytku wilgoci z węgli oraz zużycie energii dokonano monitorowanie parametrów"},
        {"line": 2, "text": "procesowych w suszarce laboratoryjnej poprzez pomiar zużycia energii elektrycznej oraz wyznaczenie"},
        {"line": 3, "text": "strumienia odparowanej wilgoci, mierząc wilgotność względną powietrza na wlocie i na wylocie z"},
        {"line": 4, "text": "instalacji oraz temperaturę i ciśnienie atmosferyczne powietrza wilgotnego [3]."},
        {"line": 5, "text": "Do badań wykorzystano węgle z największych polskich kopalni: Bełchatów (średnia wilgoć węgla"},
        {"line": 6, "text": "50÷54%)\u00a0 i Turów (średnia wilgoć węgla 43÷48%). Podczas badań brano pod uwagę: temperaturę"},
        {"line": 7, "text": "czynnika suszącego, czas przebywania w suszarce, prędkość czynnika suszącego, zawartość wilgoci w"},
        {"line": 8, "text": "węglu, temperaturę początkową węgla, wielkość ziaren suszonego węgla. Na podstawie analizy"},
        {"line": 9, "text": "powyższych parametrów oraz nakładów energetycznych oszacowano optymalne warunki pracy"},
        {"line": 10, "text": "fluidalnych suszarek węgla brunatnego pod względem doboru prędkości suszenia. Oszacowano również"},
        {"line": 11, "text": "optymalny czas przebywania węgla w suszarce w zależności od temperatury czynnika suszącego. Poniżej"},
        {"line": 12, "text": "przedstawiono kilka rezultatów badań dla węgla pochodzącego"},
        {"line": 13, "text": "z kopalni Bełchatów [1, 3]."}
       ]},
       "mark": {"type": "text", "align": "left", "baseline": "middle", "font": "Liberation Serif", "fontSize": 22.3, "color": "#111"},
       "encoding": {"x": {"value": 4}, "y": {"field": "line", "type": "quantitative", "scale": {"domain": [1, 13], "range": [130, 447], "nice": false, "zero": false}, "axis": null}, "text": {"field": "text"}}}
    ]
  },
  {
    "bounds": "flush", "spacing": 0, "center": true,
    "resolve": {"scale": {"color": "independent"}, "legend": {"color": "independent"}},
    "hconcat": [
      {"width": 53, "height": 1, "data": {"values": []}, "mark": {"type": "point"}},
      {
        "width": 400, "height": 233,
        "data": {"name": "c1"},
        "mark": {"type": "line", "interpolate": "monotone", "strokeWidth": 2.5},
        "encoding": {
          "x": {"field": "t", "type": "quantitative", "scale": {"domain": [0, 75], "nice": false}, "axis": {"values": [0,5,10,15,20,25,30,35,40,45,50,55,60,65,70,75], "title": "czas, min", "titleFontSize": 12, "labelFontSize": 12}},
          "y": {"field": "w", "type": "quantitative", "scale": {"domain": [0, 60], "nice": false}, "axis": {"values": [0,5,10,15,20,25,30,35,40,45,50,55,60], "title": "zawartość wilgoci, %", "titleFontSize": 14, "labelFontSize": 12}},
          "color": {"field": "s", "type": "nominal", "scale": {"domain": ["70 °C", "60 °C", "50 °C", "35 °C", "27 °C"], "range": ["#000000", "#8b1a1a", "#f4511e", "#1e7b1e", "#4f81bd"]}, "legend": {"legendX": 341, "legendY": 9, "labelFontSize": 12, "symbolSize": 225, "rowPadding": -1}}
        }
      },
      {"width": 81, "height": 1, "data": {"values": []}, "mark": {"type": "point"}},
      {
        "width": 388, "height": 234,
        "title": {"text": "b)", "orient": "bottom", "anchor": "end", "frame": "group", "dx": 29, "offset": -7, "font": "Liberation Serif", "fontSize": 22, "fontWeight": "bold", "color": "#111"},
        "data": {"name": "c2"},
        "mark": {"type": "line", "interpolate": "monotone", "strokeWidth": 2.5},
        "encoding": {
          "x": {"field": "t", "type": "quantitative", "scale": {"domain": [0, 60], "nice": false}, "axis": {"values": [0,5,10,15,20,25,30,35,40,45,50,55,60], "title": "czas, min", "titleFontSize": 12}},
          "y": {"field": "w", "type": "quantitative", "scale": {"domain": [0, 55], "nice": false}, "axis": {"values": [0,5,10,15,20,25,30,35,40,45,50,55], "title": "zawartość wilgoci, %", "titleFontSize": 13}},
          "color": {"field": "s", "type": "nominal", "scale": {"domain": ["8,0 m/s", "10,8 m/s", "13,6 m/s"], "range": ["#f0a31e", "#e3201b", "#1c1c12"]}, "legend": {"legendX": 300, "legendY": 17, "padding": 4}}
        }
      }
    ]
  },
  {
    "width": 960, "height": 123,
    "layer": [
      {"data": {"values": [{"line": 0, "text": "a)"}]},
       "mark": {"type": "text", "align": "left", "baseline": "middle", "font": "Liberation Serif", "fontSize": 22, "fontWeight": "bold", "color": "#111"},
       "encoding": {"x": {"value": 13}, "y": {"field": "line", "type": "quantitative", "scale": {"domain": [0, 2], "range": [20, 98], "nice": false, "zero": false}, "axis": null}, "text": {"field": "text"}}},
      {"data": {"values": [{"line": 1, "text": "Rys. 2"}]},
       "mark": {"type": "text", "align": "left", "baseline": "middle", "font": "Liberation Serif", "fontSize": 23, "color": "#111"},
       "encoding": {"x": {"value": 47}, "y": {"field": "line", "type": "quantitative", "scale": {"domain": [0, 2], "range": [20, 98], "nice": false, "zero": false}, "axis": null}, "text": {"field": "text"}}},
      {"data": {"values": [{"line": 1, "text": "Ubytek wilgoci w węglu brunatnym dla zmiennych parametrów a) temperatury czynnika"}]},
       "mark": {"type": "text", "align": "left", "baseline": "middle", "font": "Liberation Serif", "fontSize": 22.8, "fontStyle": "italic", "color": "#111"},
       "encoding": {"x": {"value": 110}, "y": {"field": "line", "type": "quantitative", "scale": {"domain": [0, 2], "range": [20, 98], "nice": false, "zero": false}, "axis": null}, "text": {"field": "text"}}},
      {"data": {"values": [{"line": 2, "text": "suszącego, b) prędkości powietrza fluidyzującego"}]},
       "mark": {"type": "text", "align": "center", "baseline": "middle", "font": "Liberation Serif", "fontSize": 23, "fontStyle": "italic", "color": "#111"},
       "encoding": {"x": {"value": 481}, "y": {"field": "line", "type": "quantitative", "scale": {"domain": [0, 2], "range": [20, 98], "nice": false, "zero": false}, "axis": null}, "text": {"field": "text"}}}
    ]
  },
  {
    "bounds": "flush", "spacing": 0, "center": true,
    "resolve": {"scale": {"color": "independent"}, "legend": {"color": "independent"}},
    "hconcat": [
      {"width": 60, "height": 1, "data": {"values": []}, "mark": {"type": "point"}},
      {
        "width": 381, "height": 228,
        "data": {"name": "c3"},
        "mark": {"type": "line", "interpolate": "linear", "strokeWidth": 2},
        "encoding": {
          "x": {"field": "t", "type": "quantitative", "scale": {"domain": [0, 75], "nice": false}, "axis": {"values": [0,5,10,15,20,25,30,35,40,45,50,55,60,65,70,75], "title": "czas, min", "titleFont": "Liberation Sans", "titleFontSize": 11}},
          "y": {"field": "e", "type": "quantitative", "scale": {"domain": [0, 9000], "nice": false}, "axis": {"values": [0,1000,2000,3000,4000,5000,6000,7000,8000,9000], "format": "d", "title": "energia elektryczna, kJ/kgH2O", "titleFontSize": 13}},
          "color": {"field": "s", "type": "nominal", "scale": {"domain": ["27 °C", "35 °C", "50 °C", "60 °C", "70 °C"], "range": ["#4f81bd", "#1e7b1e", "#f4511e", "#8b1a1a", "#000000"]}, "legend": {"legendX": 7, "legendY": 5, "padding": 2}}
        }
      },
      {"width": 81, "height": 1, "data": {"values": []}, "mark": {"type": "point"}},
      {
        "width": 392, "height": 236,
        "data": {"name": "c4"},
        "mark": {"type": "line", "interpolate": "linear", "strokeWidth": 2},
        "encoding": {
          "x": {"field": "t", "type": "quantitative", "scale": {"domain": [0, 60], "nice": false}, "axis": {"values": [0,5,10,15,20,25,30,35,40,45,50,55,60], "title": "czas, min", "titleFont": "Liberation Sans", "titleFontSize": 11}},
          "y": {"field": "e", "type": "quantitative", "scale": {"domain": [0, 9000], "nice": false}, "axis": {"values": [0,1000,2000,3000,4000,5000,6000,7000,8000,9000], "format": "d", "title": "energia elektryczna, kJ/kgH2O", "titleFontSize": 13}},
          "color": {"field": "s", "type": "nominal", "scale": {"domain": ["8,0 m/s", "10,8 m/s", "13,6 m/s"], "range": ["#f0a31e", "#e3201b", "#1c1c12"]}, "legend": {"legendX": 314, "legendY": 174, "padding": 4}}
        }
      }
    ]
  },
  {
    "width": 960, "height": 409,
    "layer": [
      {"data": {"values": [{"line": 0, "text": "a)"}]},
       "mark": {"type": "text", "align": "left", "baseline": "middle", "font": "Liberation Serif", "fontSize": 22, "fontWeight": "bold", "color": "#111"},
       "encoding": {"x": {"value": 13}, "y": {"field": "line", "type": "quantitative", "scale": {"domain": [0, 28], "range": [29.6, 398.6], "nice": false, "zero": false}, "axis": null}, "text": {"field": "text"}}},
      {"data": {"values": [{"line": 0, "text": "b)"}]},
       "mark": {"type": "text", "align": "left", "baseline": "middle", "font": "Liberation Serif", "fontSize": 22, "fontWeight": "bold", "color": "#111"},
       "encoding": {"x": {"value": 479}, "y": {"field": "line", "type": "quantitative", "scale": {"domain": [0, 28], "range": [29.6, 398.6], "nice": false, "zero": false}, "axis": null}, "text": {"field": "text"}}},
      {"data": {"values": [{"line": 3, "text": "Rys. 3"}]},
       "mark": {"type": "text", "align": "left", "baseline": "middle", "font": "Liberation Serif", "fontSize": 23, "color": "#111"},
       "encoding": {"x": {"value": 38}, "y": {"field": "line", "type": "quantitative", "scale": {"domain": [0, 28], "range": [29.6, 398.6], "nice": false, "zero": false}, "axis": null}, "text": {"field": "text"}}},
      {"data": {"values": [{"line": 3, "text": "Zużycie energii elektrycznej dla procesu suszenia przy różnych a) temperaturach czynnika"}]},
       "mark": {"type": "text", "align": "left", "baseline": "middle", "font": "Liberation Serif", "fontSize": 23, "fontStyle": "italic", "color": "#111"},
       "encoding": {"x": {"value": 100}, "y": {"field": "line", "type": "quantitative", "scale": {"domain": [0, 28], "range": [29.6, 398.6], "nice": false, "zero": false}, "axis": null}, "text": {"field": "text"}}},
      {"data": {"values": [{"line": 5, "text": "suszącego, b) prędkościach powietrza fluidyzującego"}]},
       "mark": {"type": "text", "align": "center", "baseline": "middle", "font": "Liberation Serif", "fontSize": 23, "fontStyle": "italic", "color": "#111"},
       "encoding": {"x": {"value": 481}, "y": {"field": "line", "type": "quantitative", "scale": {"domain": [0, 28], "range": [29.6, 398.6], "nice": false, "zero": false}, "axis": null}, "text": {"field": "text"}}},
      {"data": {"values": [{"line": 7, "text": "Bibliografia:"}]},
       "mark": {"type": "text", "align": "left", "baseline": "middle", "font": "Liberation Serif", "fontSize": 22.5, "fontWeight": "bold", "color": "#111"},
       "encoding": {"x": {"value": 4}, "y": {"field": "line", "type": "quantitative", "scale": {"domain": [0, 28], "range": [29.6, 398.6], "nice": false, "zero": false}, "axis": null}, "text": {"field": "text"}}},
      {"data": {"values": [
        {"line": 9, "text": "\u00a0[1] Kruczek-Pawlak H., Wybrane zagadnienia spalania młodych paliw kopalnych o małym stopniu"},
        {"line": 11, "text": "metamorfizmu,\u00a0 PWr 2003"},
        {"line": 13, "text": "[2] Bullinger C., Ness M., Sarunac N., Coal Creek Prototype Fluidized Bed Coal Dryer: Performance"},
        {"line": 15, "text": "Improvement, Emissions Reduction, and Operating Experience, 31st International Technical Conference"},
        {"line": 17, "text": "on Coal Utilization and Fuel Systems, Clearwater FL, May 21-25, 2006"},
        {"line": 19, "text": "[3] Plutecki Z., Michalski M. „Niskotemperaturowe suszenie węgla brunatnego dla energetyki"},
        {"line": 21, "text": "zawodowej. Badania własne”, Górnictwo Odkrywkowe, 3-4/2012 ISSN 0043-2075, Wrocław 2012"}
       ]},
       "mark": {"type": "text", "align": "left", "baseline": "middle", "font": "Liberation Serif", "fontSize": 22.5, "color": "#111"},
       "encoding": {"x": {"value": 4}, "y": {"field": "line", "type": "quantitative", "scale": {"domain": [0, 28], "range": [29.6, 398.6], "nice": false, "zero": false}, "axis": null}, "text": {"field": "text"}}},
      {"data": {"values": [{"line": 27.8, "text": "19"}]},
       "mark": {"type": "text", "align": "center", "baseline": "middle", "font": "Liberation Serif", "fontSize": 22, "color": "#111"},
       "encoding": {"x": {"value": 945}, "y": {"field": "line", "type": "quantitative", "scale": {"domain": [0, 28], "range": [29.6, 398.6], "nice": false, "zero": false}, "axis": null}, "text": {"field": "text"}}}
    ]
  }
]
}
